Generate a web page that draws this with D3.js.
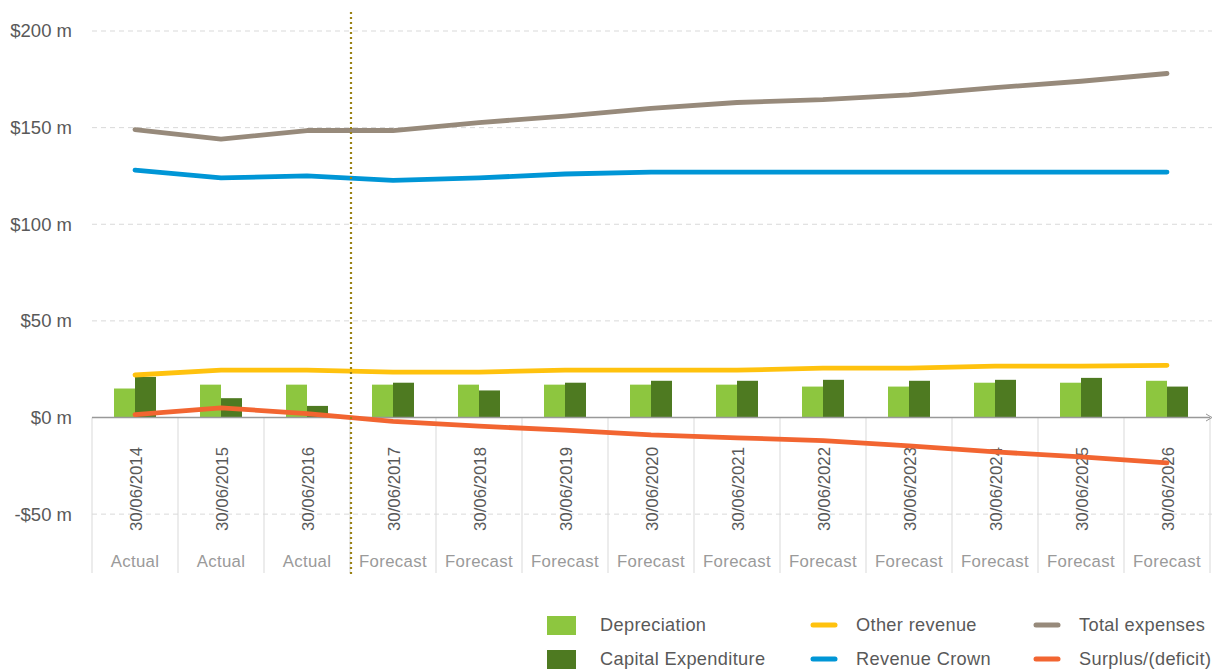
<!DOCTYPE html>
<html><head><meta charset="utf-8">
<script src="https://cdn.jsdelivr.net/npm/d3@7"></script>
<style>body{margin:0;background:#fff;font-family:"Liberation Sans",Arial,sans-serif;}</style>
</head><body><svg id="c" width="1216" height="671"></svg>
<script>
const categories = ["30/06/2014","30/06/2015","30/06/2016","30/06/2017","30/06/2018","30/06/2019","30/06/2020","30/06/2021","30/06/2022","30/06/2023","30/06/2024","30/06/2025","30/06/2026"];
const phases = ["Actual","Actual","Actual","Forecast","Forecast","Forecast","Forecast","Forecast","Forecast","Forecast","Forecast","Forecast","Forecast"];
const depreciation = [15,17,17,17,17,17,17,17,16,16,18,18,19];
const capex = [21,10,6,18,14,18,19,19,19.5,19,19.5,20.5,16];
const otherRevenue = [22,24.5,24.5,23.5,23.5,24.5,24.5,24.5,25.5,25.5,26.6,26.6,27];
const revenueCrown = [128,124,125,122.7,124,126,127,127,127,127,127,127,127];
const totalExpenses = [149,144,148.5,148.5,152.6,156,160,163,164.5,167,170.7,174,178];
const surplus = [1.5,5,2,-2,-4.5,-6.5,-9,-10.5,-12,-14.7,-17.8,-20.4,-23.5];
const yTicks = [-50,0,50,100,150,200];

const svg = d3.select("#c");
const x = d3.scaleBand().domain(categories).range([92,1210]).paddingInner(0).paddingOuter(0);
const y = d3.scaleLinear().domain([0,200]).range([417.5,31]);
const fmt = v => (v<0?"-$"+(-v):"$"+v)+" m";

// gridlines
svg.append("g").selectAll("line").data(yTicks.filter(d=>d!==0)).join("line")
  .attr("x1",92).attr("x2",1212).attr("y1",d=>y(d)).attr("y2",d=>y(d))
  .attr("stroke","#d9d9d9").attr("stroke-dasharray","5,4").attr("stroke-width",1);
svg.append("g").selectAll("text").data(yTicks).join("text")
  .attr("x",72).attr("y",d=>y(d)).attr("dy","0.35em").attr("text-anchor","end")
  .attr("font-size",18.5).attr("fill","#595959").text(fmt);

// category separators
const seps = categories.map(c=>x(c)).concat([x.range()[1]]);
svg.append("g").selectAll("line").data(seps).join("line")
  .attr("x1",d=>d).attr("x2",d=>d).attr("y1",y(0)).attr("y2",573)
  .attr("stroke","#d9d9d9").attr("stroke-width",1);

// bars
const bw = 21;
svg.append("g").selectAll("rect").data(categories).join("rect")
  .attr("x",c=>x(c)+x.bandwidth()/2-bw).attr("width",bw)
  .attr("y",(c,i)=>y(depreciation[i])).attr("height",(c,i)=>y(0)-y(depreciation[i]))
  .attr("fill","#8dc63f");
svg.append("g").selectAll("rect").data(categories).join("rect")
  .attr("x",c=>x(c)+x.bandwidth()/2).attr("width",bw)
  .attr("y",(c,i)=>y(capex[i])).attr("height",(c,i)=>y(0)-y(capex[i]))
  .attr("fill","#4e7a21");

// x axis line
svg.append("line").attr("x1",92).attr("x2",1210).attr("y1",y(0)).attr("y2",y(0))
  .attr("stroke","#999").attr("stroke-width",1.5);
svg.append("path").attr("d",`M1206,${y(0)-3.5} L1212,${y(0)} L1206,${y(0)+3.5}`)
  .attr("fill","none").attr("stroke","#999").attr("stroke-width",1);

// category labels
svg.append("g").selectAll("text").data(categories).join("text")
  .attr("transform",c=>`translate(${x(c)+x.bandwidth()/2+6.5},489) rotate(-90)`)
  .attr("text-anchor","middle").attr("font-size",16.8).attr("fill","#595959").text(c=>c);
svg.append("g").selectAll("text").data(categories).join("text")
  .attr("x",c=>x(c)+x.bandwidth()/2).attr("y",561).attr("dy","0.35em")
  .attr("text-anchor","middle").attr("font-size",16.8).attr("letter-spacing",0.35).attr("fill","#9a9a9a").text((c,i)=>phases[i]);

// lines
const cx = c=>x(c)+x.bandwidth()/2;
const line = d3.line().x((d,i)=>cx(categories[i])).y(d=>y(d)).curve(d3.curveLinear);
const series = [
  {v:otherRevenue,c:"#ffc20e"},
  {v:surplus,c:"#f26531"},
  {v:revenueCrown,c:"#0096d6"},
  {v:totalExpenses,c:"#978a7b"}
];
svg.append("g").selectAll("path").data(series).join("path")
  .attr("d",s=>line(s.v)).attr("fill","none").attr("stroke",s=>s.c)
  .attr("stroke-width",4.8).attr("stroke-linecap","round").attr("stroke-linejoin","round");

// divider
svg.append("line").attr("x1",351).attr("x2",351).attr("y1",12).attr("y2",576)
  .attr("stroke","#9a8214").attr("stroke-width",2.2).attr("stroke-dasharray","2,3");

// legend
const legend = [
  {t:"Depreciation",c:"#8dc63f",type:"rect",x:547,y:625},
  {t:"Capital Expenditure",c:"#4e7a21",type:"rect",x:547,y:659},
  {t:"Other revenue",c:"#ffc20e",type:"line",x:813,y:625},
  {t:"Revenue Crown",c:"#0096d6",type:"line",x:813,y:659},
  {t:"Total expenses",c:"#978a7b",type:"line",x:1036,y:625},
  {t:"Surplus/(deficit)",c:"#f26531",type:"line",x:1036,y:659}
];
const lg = svg.append("g").selectAll("g").data(legend).join("g");
lg.filter(d=>d.type==="rect").append("rect").attr("x",d=>d.x).attr("y",d=>d.y-9).attr("width",29).attr("height",19).attr("fill",d=>d.c);
lg.filter(d=>d.type==="line").append("line").attr("x1",d=>d.x).attr("x2",d=>d.x+22).attr("y1",d=>d.y).attr("y2",d=>d.y)
  .attr("stroke",d=>d.c).attr("stroke-width",5).attr("stroke-linecap","round");
lg.append("text").attr("x",d=>d.type==="rect"?600:d.x+43).attr("y",d=>d.y).attr("dy","0.35em")
  .attr("font-size",18.2).attr("letter-spacing",0.35).attr("fill","#595959").text(d=>d.t);
</script></body></html>
